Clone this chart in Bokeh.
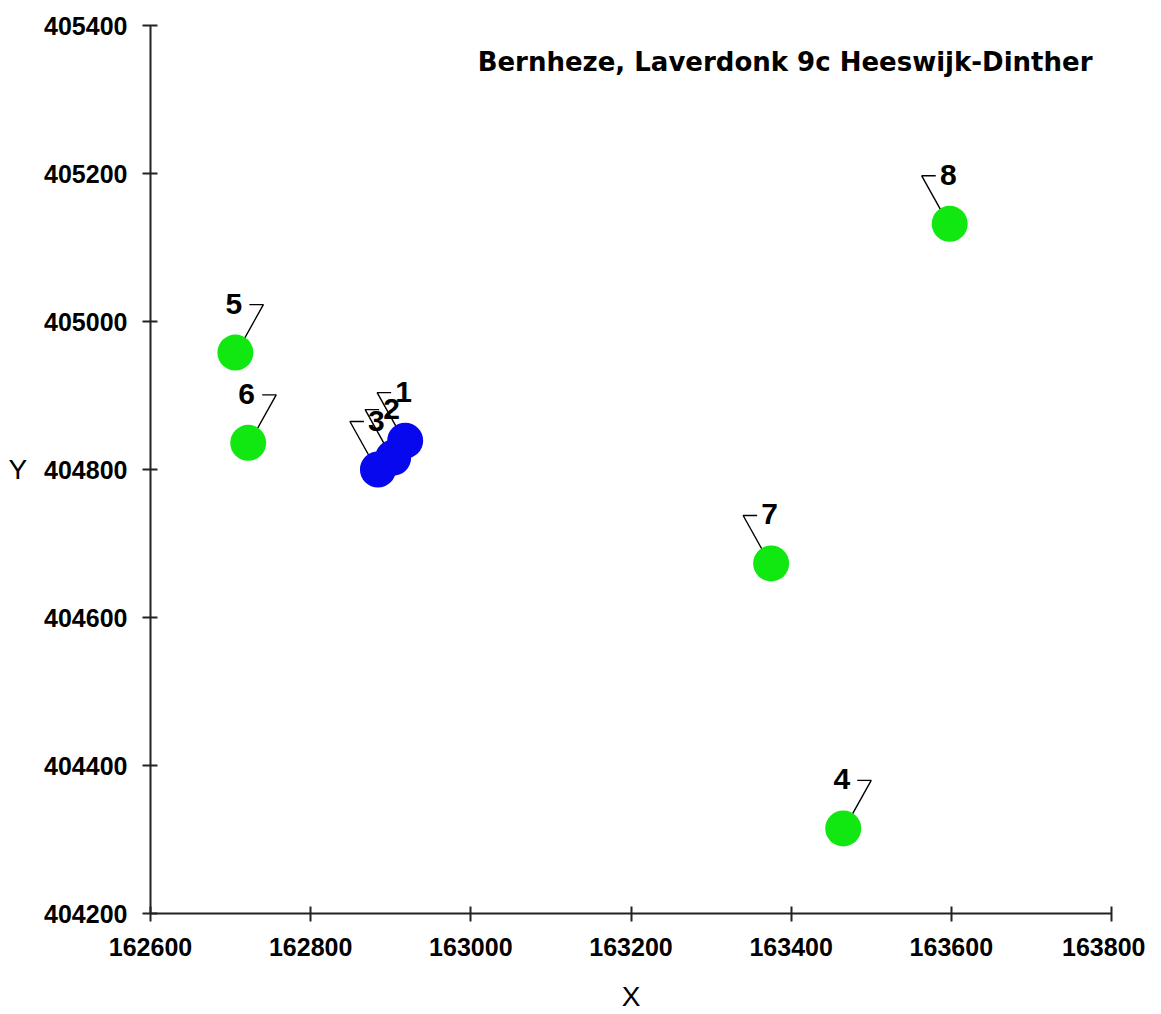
from bokeh.plotting import figure
from bokeh.models import FixedTicker, BasicTickFormatter, Range1d, Label, ColumnDataSource
from bokeh.embed import file_html
from bokeh.resources import INLINE

# ---- data ----
point_ids = ["1", "2", "3", "4", "5", "6", "7", "8"]
point_x = [162918, 162903, 162884, 163465, 162706, 162722, 163375, 163598]
point_y = [404839, 404816, 404800, 404315, 404958, 404836, 404673, 405132]
point_group = ["blue", "blue", "blue", "green", "green", "green", "green", "green"]
x_ticks = [162600, 162800, 163000, 163200, 163400, 163600, 163800]
y_ticks = [404200, 404400, 404600, 404800, 405000, 405200, 405400]
title_text = "Bernheze, Laverdonk 9c Heeswijk-Dinther"

# leader direction per label (+1 = leader to the right, -1 = to the left)
leader_side = [-1, -1, -1, 1, 1, 1, -1, -1]

X0, X1 = x_ticks[0], x_ticks[-1]
Y0, Y1 = y_ticks[0], y_ticks[-1]
FW, FH = 961, 888

p = figure(frame_width=FW, frame_height=FH,
           x_range=Range1d(X0, X1), y_range=Range1d(Y0, Y1),
           output_backend="svg", toolbar_location=None,
           min_border_left=150, min_border_top=25,
           min_border_right=34, min_border_bottom=95)
p.outline_line_color = None
p.xgrid.grid_line_color = None
p.ygrid.grid_line_color = None
p.background_fill_color = "white"
p.border_fill_color = "white"

for ax, ticks in ((p.xaxis[0], x_ticks), (p.yaxis[0], y_ticks)):
    ax.ticker = FixedTicker(ticks=ticks)
    ax.formatter = BasicTickFormatter(use_scientific=False)
    ax.axis_line_width = 2
    ax.axis_line_color = "#222222"
    ax.major_tick_line_width = 2
    ax.major_tick_line_color = "#222222"
    ax.major_tick_in = 7
    ax.major_tick_out = 8
    ax.minor_tick_line_color = None
    ax.major_label_text_font = "Liberation Sans"
    ax.major_label_text_font_style = "bold"
    ax.major_label_text_font_size = "25px"
    ax.major_label_text_color = "black"
    ax.axis_label_text_font = "Liberation Sans"
    ax.axis_label_text_font_style = "normal"
    ax.axis_label_text_font_size = "28px"
    ax.axis_label_text_color = "black"

p.xaxis.axis_label = "X"
p.yaxis.axis_label = "Y"
p.yaxis.axis_label_orientation = "horizontal"
p.xaxis.major_label_standoff = 16
p.yaxis.major_label_standoff = 15
p.xaxis.axis_label_standoff = 22
p.yaxis.axis_label_standoff = 14

# px -> data units
ux = (X1 - X0) / FW
uy = (Y1 - Y0) / FH

# leader lines
xs, ys = [], []
for x, y, s in zip(point_x, point_y, leader_side):
    xs.append([x + s * 4 * ux, x + s * 28 * ux, x + s * 14 * ux])
    ys.append([y + 5 * uy, y + 48 * uy, y + 48 * uy])
p.multi_line(xs, ys, line_color="black", line_width=1.4)

# points
colors = {"blue": "#0808ee", "green": "#11e811"}
src = ColumnDataSource(dict(x=point_x, y=point_y,
                            c=[colors[g] for g in point_group]))
p.scatter("x", "y", source=src, size=36, fill_color="c", line_color="c",
          line_width=0)

# labels
lsrc = ColumnDataSource(dict(x=[x - 1.5 * ux for x in point_x],
                             y=[y + 49 * uy for y in point_y],
                             t=point_ids))
p.text("x", "y", text="t", source=lsrc, text_align="center",
       text_baseline="middle", text_font_size="30px",
       text_font={"value": "Liberation Sans"}, text_font_style="bold",
       text_color="black")

title = Label(x=FW - 19, y=FH - 36, x_units="screen", y_units="screen",
              text=title_text, text_align="right", text_baseline="middle",
              text_font="DejaVu Sans", text_font_style="bold",
              text_font_size="26px", text_color="black")
p.add_layout(title)

open("out.html", "w").write(file_html(p, INLINE))
